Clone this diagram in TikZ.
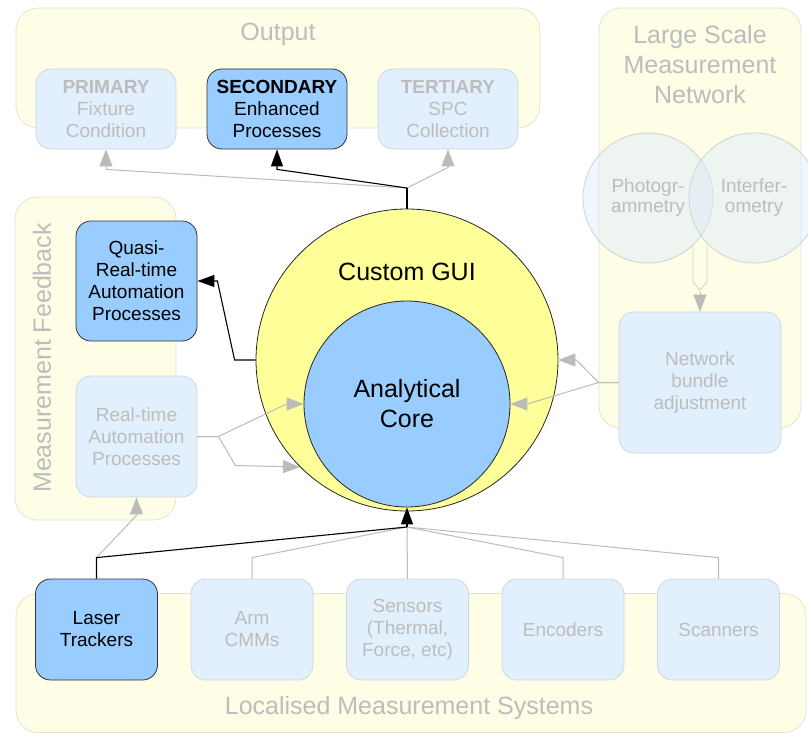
\documentclass[tikz,border=0pt]{standalone}
\usepackage{fontspec}
\setmainfont{Liberation Sans}
\usetikzlibrary{arrows.meta,positioning,shapes}
\definecolor{groupfill}{HTML}{FEFDE6}
\definecolor{groupline}{HTML}{E3E3D3}
\definecolor{fadefill}{HTML}{E2EFFC}
\definecolor{fadeline}{HTML}{CDD7E1}
\definecolor{fadetext}{HTML}{BDBDBD}
\definecolor{activefill}{HTML}{99CCFF}
\definecolor{guifill}{HTML}{FFFF99}
\definecolor{edgegray}{HTML}{BBBBBB}
\definecolor{lensfill}{HTML}{DCEBFA}
\definecolor{lensline}{HTML}{CCD3D3}
\tikzset{
     group box/.style={draw=groupline, fill=groupfill, rounded corners=22pt, line width=0.8pt, inner sep=0pt},
     group label/.style={text=fadetext, font=\fontsize{25}{30}\selectfont, align=center},
     faded box/.style={draw=fadeline, fill=fadefill, text=fadetext, rounded corners=15pt, line width=0.8pt,
        align=center, inner sep=0pt, font=\fontsize{19}{22}\selectfont},
     active box/.style={faded box, draw=black!80, fill=activefill, text=black},
     lens/.style={circle, draw=lensline, fill=lensfill, fill opacity=0.45, text opacity=1, text=fadetext,
        minimum size=130pt, inner sep=0pt, line width=0.8pt, align=center, font=\fontsize{19}{20}\selectfont},
     big circle/.style={circle, draw=black!85, line width=0.8pt, inner sep=0pt, align=center,
        font=\fontsize{25}{30}\selectfont},
      mainedge/.style   = {black, line width=1.1pt, ->, >={Triangle[length=17pt,width=12pt]}},
      mainline/.style   = {black, line width=1.1pt},
      fadededge/.style = {edgegray, line width=1pt, ->, >={Triangle[length=17pt,width=13pt]}},
      fadedline/.style = {edgegray, line width=1pt},
    }

\begin{document}
\begin{tikzpicture}[x=1pt, y=-1pt, node distance=171pt, on grid]
    \useasboundingbox (0,0) rectangle (808,733);

    % groups
    \node [group box, minimum width=524pt, minimum height=120pt] (outputgroup) at (278,68) {};
    \node [group box, minimum width=202pt, minimum height=420pt] (networkgroup) at (700,218) {};
    \node [group box, minimum width=161pt, minimum height=323pt] (feedbackgroup) at (95.5,358.5) {};
    \node [group box, minimum width=790pt, minimum height=139pt] (localgroup) at (411,663) {};

    \node [group label] (outputlabel) at (278,34) {Output};
    \node [group label] (networklabel) at (700,65) {Large Scale\\Measurement\\Network};
    \node [group label, rotate=90] (feedbacklabel) at (42,358) {Measurement Feedback};
    \node [group label] (locallabel) at (409,708) {Localised Measurement Systems};

    % output
    \node [faded box, minimum width=140pt, minimum height=80pt] (primary) at (106,109)
        {\textbf{PRIMARY}\\Fixture\\Condition};
    \node [active box, minimum width=140pt, minimum height=80pt] (secondary) [right=of primary]
        {\textbf{SECONDARY}\\Enhanced\\Processes};
    \node [faded box, minimum width=140pt, minimum height=80pt] (tertiary) [right=of secondary]
        {\textbf{TERTIARY}\\SPC\\Collection};

    % large scale network
    \node [lens] (photo) at (648,198) {Photogr-\\ammetry};
    \node [lens] (interfero) at (754,198) {Interfer-\\ometry};
    \node [faded box, minimum width=162pt, minimum height=141pt] (network) at (700,382.5)
        {Network\\bundle\\adjustment};
    \coordinate (lensjoin) at (700,245);
    \draw [draw=lensline, line width=0.8pt] (lensjoin) ++(-7,0) -- ++(0,37) -- ++(7,8) -- ++(7,-8) -- ++(0,-37);
    \draw [fadededge] ([yshift=-47pt]lensjoin) -- (network.north);

    % feedback
    \node [active box, minimum width=121pt, minimum height=120pt] (quasi) at (136.5,281)
        {Quasi-\\Real-time\\Automation\\Processes};
    \node [faded box, minimum width=121pt, minimum height=121pt] (realtime) [below=155.5pt of quasi]
        {Real-time\\Automation\\Processes};

    % core
    \node [big circle, fill=guifill, minimum size=302pt] (gui) at (407,360) {};
    \node [font=\fontsize{25}{30}\selectfont] (guilabel) at (407,272) {Custom GUI};
    \node [big circle, fill=activefill, minimum size=206pt] (core) at (407,404) {Analytical\\Core};

    % localised systems
    \node [active box, minimum width=122pt, minimum height=101pt] (laser) at (96.5,629.5) {Laser\\Trackers};
    \node [faded box, minimum width=122pt, minimum height=101pt] (arm) [right=155.5pt of laser] {Arm\\CMMs};
    \node [faded box, minimum width=122pt, minimum height=101pt] (sensors) [right=155.5pt of arm]
        {Sensors\\(Thermal,\\Force, etc)};
    \node [faded box, minimum width=122pt, minimum height=101pt] (encoders) [right=155.5pt of sensors] {Encoders};
    \node [faded box, minimum width=122pt, minimum height=101pt] (scanners) [right=155.5pt of encoders] {Scanners};

    % connectors
    \coordinate (topfork) at (407,188);
    \coordinate (botfork) at (407,527);

    \draw [fadededge] (topfork) -- ([yshift=-20pt]primary.south) -- (primary.south);
    \draw [fadededge] (topfork) -- ([yshift=-18pt]tertiary.south) -- (tertiary.south);
    \draw [mainline] (gui.north) -- (topfork);
    \draw [mainedge] (topfork) -- ([yshift=-20pt]secondary.south) -- (secondary.south);

    \draw [mainedge] (gui.west) -- ++(-21,0) -- ([xshift=20pt]quasi.east) -- (quasi.east);
    \draw [fadededge] (realtime.east) -- ++(21,0) -- ([xshift=-17pt]core.west) -- (core.west);
    \draw [fadededge] (realtime.east) -- ++(21,0) -- ++(17,29) -- (gui.225);

    \draw [fadededge] (network.west) -- ++(-20,0) -- ([xshift=18pt]gui.east) -- (gui.east);
    \draw [fadededge] (network.west) -- ++(-20,0) -- ([xshift=17pt]core.east) -- (core.east);

    \draw [fadedline] (arm.north) -- ([yshift=21pt]arm.north) -- (botfork);
    \draw [fadedline] (sensors.north) -- (botfork);
    \draw [fadedline] (encoders.north) -- ([yshift=21pt]encoders.north) -- (botfork);
    \draw [fadedline] (scanners.north) -- ([yshift=21pt]scanners.north) -- (botfork);
    \draw [fadededge] ([yshift=21pt]laser.north) -- ([yshift=-18pt]realtime.south) -- (realtime.south);
    \draw [mainline] (laser.north) -- ([yshift=21pt]laser.north) -- (botfork);
    \draw [mainedge] (botfork) -- (core.south);
\end{tikzpicture}
\end{document}
